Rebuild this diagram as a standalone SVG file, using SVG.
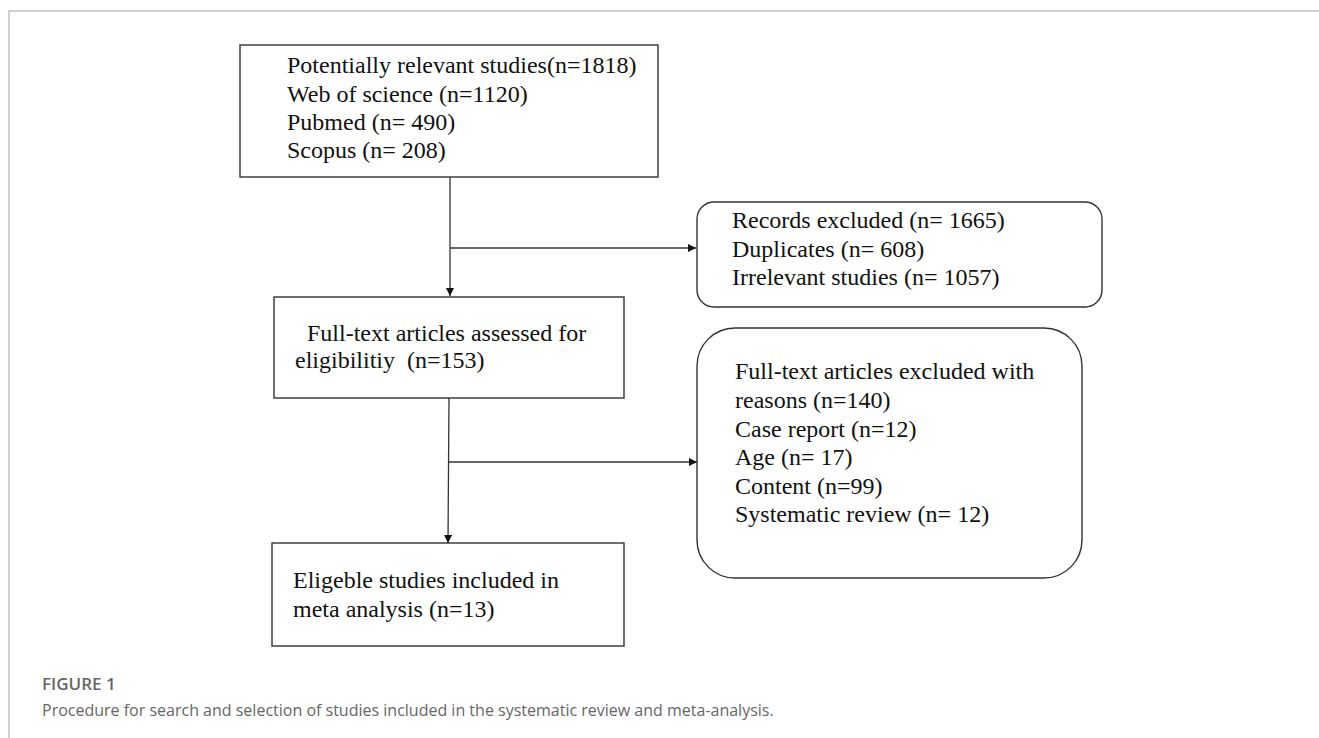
<svg xmlns="http://www.w3.org/2000/svg" width="1319" height="738" viewBox="0 0 1319 738">
<style>
.box{fill:#fff;stroke:#333;stroke-width:1.4}
.t{font-family:"Liberation Serif","Times New Roman",serif;font-size:24px;fill:#111}
.ln{stroke:#333;stroke-width:1.3;fill:none}
.cap1{font-family:"Open Sans",sans-serif;font-size:17px;font-weight:600;fill:#666}
.cap2{font-family:"Open Sans",sans-serif;font-size:16px;font-weight:400;fill:#666}
</style>
<defs>
<marker id="ah" viewBox="0 0 10 10" refX="10" refY="5" markerWidth="8" markerHeight="8" markerUnits="userSpaceOnUse" orient="auto">
<path d="M0,0 L10,5 L0,10 z" fill="#111"/>
</marker>
</defs>
<rect width="1319" height="738" fill="#fff"/>
<g id="frame">
<path d="M9,738 V11 H1319" fill="none" stroke="#d0d0d0" stroke-width="2"/>
</g>
<g id="connectors">
<line class="ln" x1="450" y1="177" x2="450" y2="296" marker-end="url(#ah)"/>
<line class="ln" x1="450" y1="248" x2="696" y2="248" marker-end="url(#ah)"/>
<line class="ln" x1="449" y1="398" x2="448" y2="543" marker-end="url(#ah)"/>
<line class="ln" x1="449" y1="462" x2="697" y2="462" marker-end="url(#ah)"/>
</g>
<g id="n1">
<rect class="box" x="240" y="45" width="418" height="132"/>
<text class="t" x="287" y="73">Potentially relevant studies(n=1818)</text>
<text class="t" x="287" y="102">Web of science (n=1120)</text>
<text class="t" x="287" y="130">Pubmed (n= 490)</text>
<text class="t" x="287" y="158">Scopus (n= 208)</text>
</g>
<g id="n2">
<rect class="box" x="697" y="202" width="405" height="105" rx="17" ry="17"/>
<text class="t" x="732" y="228">Records excluded (n= 1665)</text>
<text class="t" x="732" y="257">Duplicates (n= 608)</text>
<text class="t" x="732" y="285">Irrelevant studies (n= 1057)</text>
</g>
<g id="n3">
<rect class="box" x="274" y="297" width="350" height="101"/>
<text class="t" x="301" y="341" xml:space="preserve"> Full-text articles assessed for</text>
<text class="t" x="295" y="368" xml:space="preserve">eligibilitiy  (n=153)</text>
</g>
<g id="n4">
<rect class="box" x="697" y="328" width="385" height="250" rx="38" ry="38"/>
<text class="t" x="735" y="379">Full-text articles excluded with</text>
<text class="t" x="735" y="408">reasons (n=140)</text>
<text class="t" x="735" y="437">Case report (n=12)</text>
<text class="t" x="735" y="465">Age (n= 17)</text>
<text class="t" x="735" y="494">Content (n=99)</text>
<text class="t" x="735" y="522">Systematic review (n= 12)</text>
</g>
<g id="n5">
<rect class="box" x="272" y="543" width="352" height="103"/>
<text class="t" x="293" y="588">Eligeble studies included in</text>
<text class="t" x="293" y="617">meta analysis (n=13)</text>
</g>
<g id="caption">
<text class="cap1" x="42" y="690">FIGURE 1</text>
<text class="cap2" x="42" y="716">Procedure for search and selection of studies included in the systematic review and meta-analysis.</text>
</g>
</svg>
